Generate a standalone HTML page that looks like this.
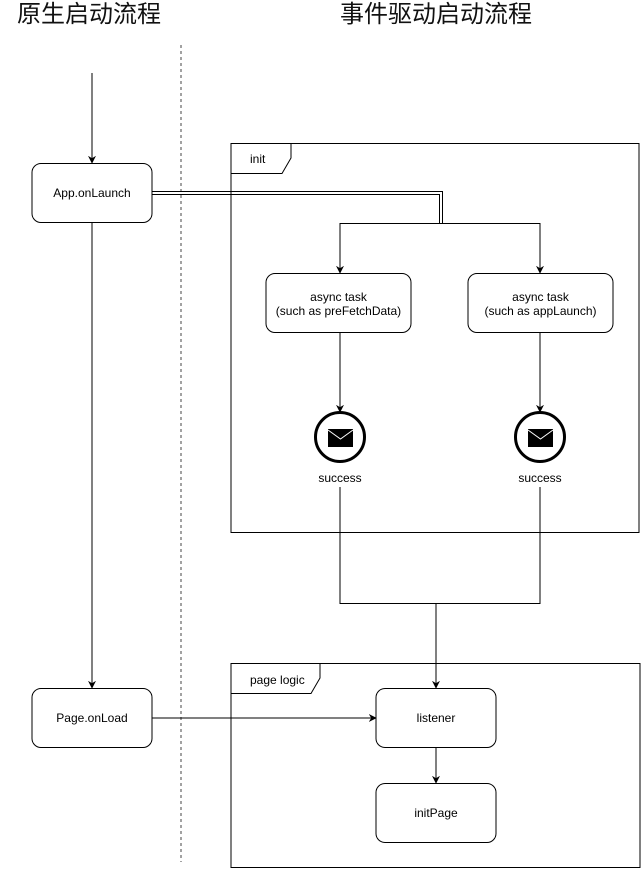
<!DOCTYPE html>
<html><head><meta charset="utf-8"><style>
html,body{margin:0;padding:0;background:#fff;}
svg{display:block;}
text{font-family:"Liberation Sans",Arial,sans-serif;font-size:12px;fill:#000;}
.t{font-family:"Liberation Sans","Noto Sans CJK SC",sans-serif;font-size:24px;fill:#111;}
</style></head><body>
<svg width="641" height="869" viewBox="0 0 641 869" xmlns="http://www.w3.org/2000/svg">
<defs>
<marker id="a" viewBox="0 0 10 10" refX="9" refY="5" markerWidth="8" markerHeight="8" orient="auto" markerUnits="userSpaceOnUse">
<path d="M0,0 L10,5 L0,10 L3,5 z" fill="#000"/></marker>
</defs>
<text class="t" x="17" y="22">原生启动流程</text>
<text class="t" x="340" y="22">事件驱动启动流程</text>
<line x1="181" y1="45" x2="181" y2="862" stroke="#444" stroke-width="1" stroke-dasharray="3,3"/>

<!-- frames -->
<rect x="231" y="143.5" width="408" height="389" fill="none" stroke="#000" stroke-width="1"/>
<path d="M231,173.5 H282 L291,158 V143.5" fill="none" stroke="#000"/>
<text x="250" y="163">init</text>
<rect x="231" y="663.5" width="409" height="204" fill="none" stroke="#000" stroke-width="1"/>
<path d="M231,693.5 H311 L320,678 V663.5" fill="none" stroke="#000"/>
<text x="250" y="684">page logic</text>

<!-- left flow -->
<line x1="92" y1="73" x2="92" y2="163" stroke="#000" marker-end="url(#a)"/>
<rect x="32" y="163.5" width="120" height="59" rx="9" fill="#fff" stroke="#000"/>
<text x="92" y="197" text-anchor="middle">App.onLaunch</text>
<line x1="92" y1="223" x2="92" y2="688" stroke="#000" marker-end="url(#a)"/>
<rect x="32" y="688.5" width="120" height="59" rx="9" fill="#fff" stroke="#000"/>
<text x="92" y="722" text-anchor="middle">Page.onLoad</text>
<line x1="152" y1="718" x2="376" y2="718" stroke="#000" marker-end="url(#a)"/>

<!-- double line -->
<path d="M152,191.5 H442.5 V223" fill="none" stroke="#000"/>
<path d="M152,194.5 H439.5 V223" fill="none" stroke="#000"/>
<path d="M340,223.5 H540" fill="none" stroke="#000"/>
<line x1="340" y1="223" x2="340" y2="273" stroke="#000" marker-end="url(#a)"/>
<line x1="540" y1="223" x2="540" y2="273" stroke="#000" marker-end="url(#a)"/>

<rect x="266" y="273.5" width="145" height="59" rx="9" fill="#fff" stroke="#000"/>
<text x="338.5" y="301" text-anchor="middle">async task</text>
<text x="338.5" y="315" text-anchor="middle">(such as preFetchData)</text>
<rect x="468" y="273.5" width="145" height="59" rx="9" fill="#fff" stroke="#000"/>
<text x="540.5" y="301" text-anchor="middle">async task</text>
<text x="540.5" y="315" text-anchor="middle">(such as appLaunch)</text>

<line x1="340" y1="333" x2="340" y2="412" stroke="#000" marker-end="url(#a)"/>
<line x1="540" y1="333" x2="540" y2="412" stroke="#000" marker-end="url(#a)"/>

<g>
<circle cx="340" cy="437" r="24.5" fill="#fff" stroke="#000" stroke-width="3"/>
<rect x="328" y="429" width="25" height="18" fill="#000"/>
<path d="M328,430 L340.5,439 L353,430" fill="none" stroke="#fff" stroke-width="1"/>
<circle cx="540" cy="437" r="24.5" fill="#fff" stroke="#000" stroke-width="3"/>
<rect x="528" y="429" width="25" height="18" fill="#000"/>
<path d="M528,430 L540.5,439 L553,430" fill="none" stroke="#fff" stroke-width="1"/>
</g>
<text x="340" y="482" text-anchor="middle">success</text>
<text x="540" y="482" text-anchor="middle">success</text>

<path d="M340,487 V603.5 H540 V487" fill="none" stroke="#000"/>
<line x1="436" y1="603" x2="436" y2="688" stroke="#000" marker-end="url(#a)"/>

<rect x="376" y="688.5" width="120" height="59" rx="9" fill="#fff" stroke="#000"/>
<text x="436" y="722" text-anchor="middle">listener</text>
<line x1="436" y1="748" x2="436" y2="783" stroke="#000" marker-end="url(#a)"/>
<rect x="376" y="783.5" width="120" height="59" rx="9" fill="#fff" stroke="#000"/>
<text x="436" y="817" text-anchor="middle">initPage</text>
</svg>
</body></html>
